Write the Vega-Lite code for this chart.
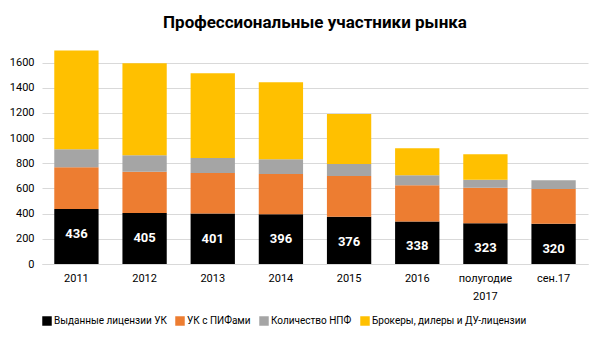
{
  "$schema": "https://vega.github.io/schema/vega-lite/v6.json",
  "width": 600,
  "height": 342,
  "autosize": {"type": "fit", "contains": "padding"},
  "padding": {"left": 9, "right": 12, "top": 14, "bottom": 16},
  "background": "white",
  "title": {
    "text": "Профессиональные участники рынка",
    "font": "Roboto",
    "fontSize": 17,
    "fontWeight": "bold",
    "color": "#000000",
    "anchor": "middle",
    "offset": 18
  },
  "config": {
    "font": "Roboto",
    "view": {"stroke": null},
    "axis": {"labelFont": "Roboto", "labelFontSize": 11, "labelColor": "#404040"}
  },
  "data": {
    "values": [
      {"cat": "2011", "series": "Выданные лицензии УК", "ord": 1, "value": 436},
      {"cat": "2011", "series": "УК с ПИФами", "ord": 2, "value": 333},
      {"cat": "2011", "series": "Количество НПФ", "ord": 3, "value": 143},
      {"cat": "2011", "series": "Брокеры, дилеры и ДУ-лицензии", "ord": 4, "value": 785},
      {"cat": "2012", "series": "Выданные лицензии УК", "ord": 1, "value": 405},
      {"cat": "2012", "series": "УК с ПИФами", "ord": 2, "value": 327},
      {"cat": "2012", "series": "Количество НПФ", "ord": 3, "value": 132},
      {"cat": "2012", "series": "Брокеры, дилеры и ДУ-лицензии", "ord": 4, "value": 730},
      {"cat": "2013", "series": "Выданные лицензии УК", "ord": 1, "value": 401},
      {"cat": "2013", "series": "УК с ПИФами", "ord": 2, "value": 321},
      {"cat": "2013", "series": "Количество НПФ", "ord": 3, "value": 121},
      {"cat": "2013", "series": "Брокеры, дилеры и ДУ-лицензии", "ord": 4, "value": 672},
      {"cat": "2014", "series": "Выданные лицензии УК", "ord": 1, "value": 396},
      {"cat": "2014", "series": "УК с ПИФами", "ord": 2, "value": 318},
      {"cat": "2014", "series": "Количество НПФ", "ord": 3, "value": 119},
      {"cat": "2014", "series": "Брокеры, дилеры и ДУ-лицензии", "ord": 4, "value": 610},
      {"cat": "2015", "series": "Выданные лицензии УК", "ord": 1, "value": 376},
      {"cat": "2015", "series": "УК с ПИФами", "ord": 2, "value": 324},
      {"cat": "2015", "series": "Количество НПФ", "ord": 3, "value": 95},
      {"cat": "2015", "series": "Брокеры, дилеры и ДУ-лицензии", "ord": 4, "value": 397},
      {"cat": "2016", "series": "Выданные лицензии УК", "ord": 1, "value": 338},
      {"cat": "2016", "series": "УК с ПИФами", "ord": 2, "value": 288},
      {"cat": "2016", "series": "Количество НПФ", "ord": 3, "value": 80},
      {"cat": "2016", "series": "Брокеры, дилеры и ДУ-лицензии", "ord": 4, "value": 214},
      {"cat": "полугодие 2017", "series": "Выданные лицензии УК", "ord": 1, "value": 323},
      {"cat": "полугодие 2017", "series": "УК с ПИФами", "ord": 2, "value": 282},
      {"cat": "полугодие 2017", "series": "Количество НПФ", "ord": 3, "value": 64},
      {"cat": "полугодие 2017", "series": "Брокеры, дилеры и ДУ-лицензии", "ord": 4, "value": 203},
      {"cat": "сен.17", "series": "Выданные лицензии УК", "ord": 1, "value": 320},
      {"cat": "сен.17", "series": "УК с ПИФами", "ord": 2, "value": 275},
      {"cat": "сен.17", "series": "Количество НПФ", "ord": 3, "value": 71},
      {"cat": "сен.17", "series": "Брокеры, дилеры и ДУ-лицензии", "ord": 4, "value": 0}
    ]
  },
  "encoding": {
    "x": {
      "field": "cat",
      "type": "nominal",
      "sort": null,
      "scale": {"paddingInner": 0.35, "paddingOuter": 0.18},
      "axis": {
        "title": null,
        "labelAngle": 0,
        "ticks": false,
        "domainColor": "#d9d9d9",
        "labelPadding": 8,
        "labelColor": "#000000",
        "labelExpr": "datum.value == 'полугодие 2017' ? ['полугодие', '2017'] : datum.value",
        "labelLineHeight": 18
      }
    },
    "y": {
      "field": "value",
      "type": "quantitative",
      "stack": "zero",
      "scale": {"domain": [0, 1700], "nice": false},
      "axis": {
        "title": null,
        "values": [0, 200, 400, 600, 800, 1000, 1200, 1400, 1600],
        "format": "d",
        "labelOverlap": false,
        "domain": false,
        "ticks": false,
        "gridColor": "#d9d9d9",
        "labelPadding": 8,
        "labelColor": "#000000"
      }
    }
  },
  "layer": [
    {
      "mark": {"type": "bar"},
      "encoding": {
        "order": {"field": "ord", "type": "quantitative"},
        "color": {
          "field": "series",
          "type": "nominal",
          "sort": ["Выданные лицензии УК", "УК с ПИФами", "Количество НПФ", "Брокеры, дилеры и ДУ-лицензии"],
          "scale": {
            "domain": ["Выданные лицензии УК", "УК с ПИФами", "Количество НПФ", "Брокеры, дилеры и ДУ-лицензии"],
            "range": ["#000000", "#ED7D31", "#A5A5A5", "#FFC000"]
          },
          "legend": {
            "title": null,
            "orient": "bottom",
            "direction": "horizontal",
            "symbolType": "square",
            "symbolSize": 90,
            "symbolStrokeWidth": 0,
            "symbolOpacity": 1,
            "labelFont": "Roboto",
            "labelFontSize": 10,
            "labelLimit": 300,
            "labelColor": "#000000",
            "columnPadding": 8,
            "symbolOffset": 0,
            "labelOffset": 2,
            "offset": 15
          }
        }
      }
    },
    {
      "transform": [{"filter": "datum.ord == 1"}],
      "mark": {"type": "text", "color": "white", "fontWeight": "bold", "fontSize": 13, "baseline": "top", "dy": 19, "font": "Roboto"},
      "encoding": {
        "text": {"field": "value", "type": "quantitative"}
      }
    }
  ]
}
